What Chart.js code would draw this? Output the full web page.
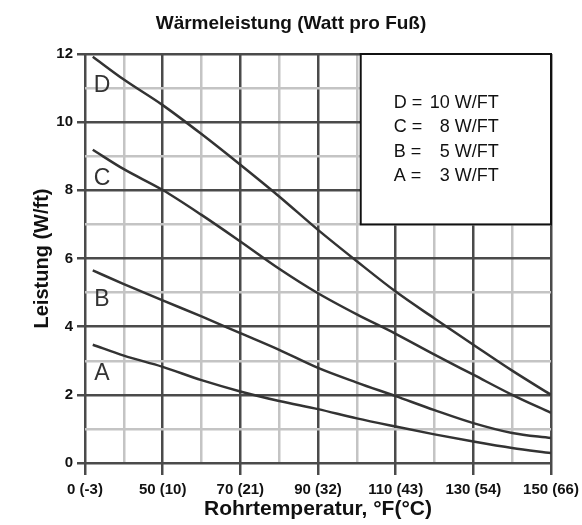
<!DOCTYPE html>
<html>
<head>
<meta charset="utf-8">
<script src="https://cdn.jsdelivr.net/npm/chart.js@4"></script>
<style>
  html, body { margin: 0; padding: 0; background: #fff; }
</style>
</head>
<body>
<canvas id="myChart" width="582" height="525"></canvas>
<script>
// Tick labels on the x axis (evenly spaced, not to scale)
var xLabels = ['0 (-3)', '50 (10)', '70 (21)', '90 (32)', '110 (43)', '130 (54)', '150 (66)'];
// Positions along the x axis (index of the tick labels above)
var xPos = [0.1, 0.5, 1, 1.5, 2, 2.5, 3, 3.5, 4, 4.5, 5, 5.5, 6];

// Leistung in W/ft
var seriesD = [11.92, 11.25, 10.5, 9.65, 8.75, 7.82, 6.84, 5.92, 5.03, 4.24, 3.47, 2.71, 2.0];
var seriesC = [9.19, 8.62, 8.01, 7.28, 6.5, 5.7, 4.98, 4.36, 3.79, 3.18, 2.59, 2.0, 1.47];
var seriesB = [5.65, 5.25, 4.77, 4.3, 3.81, 3.32, 2.79, 2.36, 1.96, 1.55, 1.17, 0.88, 0.73];
var seriesA = [3.47, 3.15, 2.82, 2.43, 2.10, 1.82, 1.58, 1.31, 1.07, 0.84, 0.63, 0.44, 0.29];

var curveNames = ['D', 'C', 'B', 'A'];
var legendNames = ['D =', 'C =', 'B =', 'A ='];
var legendValues = ['10 W/FT', '8 W/FT', '5 W/FT', '3 W/FT'];

function toPoints(values) {
    return values.map(function (v, i) { return { x: xPos[i], y: v }; });
}

function isMajorX(v) { return Number.isInteger(v); }
function isMajorY(v) { return v % 2 === 0; }

// Curve letters and the key box
var notesPlugin = {
    id: 'notes',
    afterDatasetsDraw: function (chart) {
        var ctx = chart.ctx;
        var xs = chart.scales.x;
        var ys = chart.scales.y;
        var area = chart.chartArea;

        ctx.save();
        ctx.font = '23px "Liberation Sans", Arial, sans-serif';
        ctx.fillStyle = '#333';
        ctx.textAlign = 'center';
        ctx.textBaseline = 'middle';
        chart.data.datasets.forEach(function (ds, i) {
            var px = area.left + 17;
            var py = ys.getPixelForValue(ds.data[0].y) + 29;
            ctx.fillText(curveNames[i], px, py);
        });

        // key box
        var left = xs.getPixelForValue(3.55);
        var top = area.top;
        var right = area.right;
        var bottom = ys.getPixelForValue(7);
        ctx.fillStyle = '#fff';
        ctx.fillRect(left, top, right - left, bottom - top);
        ctx.strokeStyle = '#111';
        ctx.lineWidth = 2;
        ctx.strokeRect(left, top, right - left, bottom - top);

        ctx.fillStyle = '#111';
        ctx.font = '18px "Liberation Sans", Arial, sans-serif';
        for (var k = 0; k < legendNames.length; k++) {
            var ty = top + 49 + k * 24.5;
            ctx.textAlign = 'left';
            ctx.fillText(legendNames[k], left + 33, ty);
            ctx.textAlign = 'right';
            ctx.fillText(legendValues[k], left + 138, ty);
        }
        ctx.restore();
    }
};

var ctx = document.getElementById('myChart').getContext('2d');
var myChart = new Chart(ctx, {
    type: 'line',
    data: {
        datasets: [seriesD, seriesC, seriesB, seriesA].map(function (s, i) {
            return {
                label: curveNames[i],
                data: toPoints(s),
                borderColor: '#333',
                borderWidth: 2.5,
                pointRadius: 0,
                fill: false,
                tension: 0.4,
                cubicInterpolationMode: 'monotone'
            };
        })
    },
    options: {
        responsive: false,
        devicePixelRatio: 1,
        animation: false,
        layout: { padding: 0 },
        plugins: {
            legend: { display: false },
            tooltip: { enabled: false },
            title: {
                display: true,
                text: 'Wärmeleistung (Watt pro Fuß)',
                color: '#111',
                font: { family: '"Liberation Sans", Arial, sans-serif', size: 19, weight: 'bold' },
                padding: { top: 12, bottom: 19.2 }
            }
        },
        scales: {
            x: {
                type: 'linear',
                min: 0,
                max: 6,
                afterFit: function (scale) {
                    scale.height = 62;
                    scale.paddingLeft = 0;
                    scale.paddingRight = 0;
                },
                border: { display: false },
                grid: {
                    color: function (c) { return isMajorX(c.tick.value) ? '#4a4a4a' : '#c4c4c4'; },
                    tickColor: function (c) { return isMajorX(c.tick.value) ? '#4a4a4a' : 'rgba(0,0,0,0)'; },
                    lineWidth: 2.5,
                    tickLength: 12
                },
                ticks: {
                    stepSize: 0.5,
                    autoSkip: false,
                    maxRotation: 0,
                    padding: 6,
                    color: '#111',
                    font: { family: '"Liberation Sans", Arial, sans-serif', size: 15, weight: 'bold' },
                    callback: function (v) { return isMajorX(v) ? xLabels[v] : ''; }
                },
                title: {
                    display: true,
                    text: 'Rohrtemperatur, °F(°C)',
                    color: '#111',
                    font: { family: '"Liberation Sans", Arial, sans-serif', size: 21, weight: 'bold' },
                    padding: { top: 0, bottom: 3 }
                }
            },
            y: {
                min: 0,
                max: 12,
                afterFit: function (scale) { scale.width = 85; },
                border: { display: false },
                grid: {
                    color: function (c) { return isMajorY(c.tick.value) ? '#4a4a4a' : '#c4c4c4'; },
                    tickColor: function (c) { return isMajorY(c.tick.value) ? '#4a4a4a' : 'rgba(0,0,0,0)'; },
                    lineWidth: 2.5,
                    tickLength: 8
                },
                ticks: {
                    stepSize: 1,
                    autoSkip: false,
                    padding: 4,
                    color: '#111',
                    font: { family: '"Liberation Sans", Arial, sans-serif', size: 15, weight: 'bold' },
                    callback: function (v) { return isMajorY(v) ? v : ''; }
                },
                title: {
                    display: true,
                    text: 'Leistung (W/ft)',
                    color: '#111',
                    font: { family: '"Liberation Sans", Arial, sans-serif', size: 20, weight: 'bold' },
                    padding: { top: 30, bottom: 0 }
                }
            },
            // empty scale on the right, only to keep the margin there
            yRight: {
                position: 'right',
                min: 0,
                max: 12,
                afterFit: function (scale) { scale.width = 31; },
                border: { display: false },
                grid: { display: false },
                ticks: { display: false }
            }
        }
    },
    plugins: [notesPlugin]
});
</script>
</body>
</html>
